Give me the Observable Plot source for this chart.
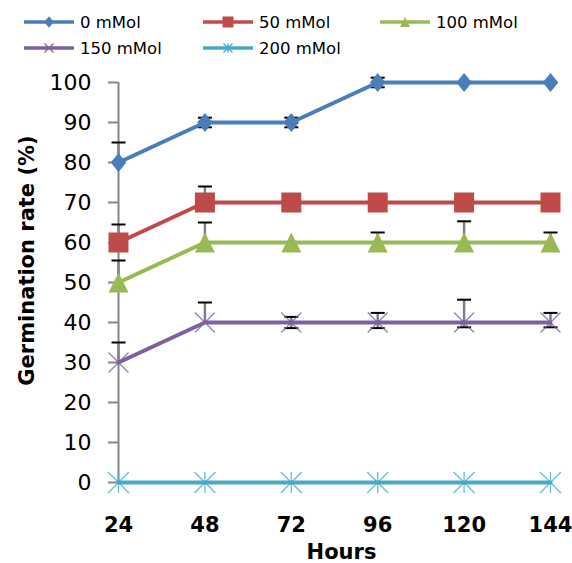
<!DOCTYPE html>
<html><head><meta charset="utf-8">
<script src="https://cdn.jsdelivr.net/npm/d3@7"></script>
<script src="https://cdn.jsdelivr.net/npm/@observablehq/plot@0.6"></script>
<style>
body{margin:0;background:#fff;font-family:"DejaVu Sans",sans-serif}
#legend{width:572px;height:62px}
</style>
</head><body><div id="legend"></div><div id="chart"></div>
<script>
// ---- data ----
const hours = [24, 48, 72, 96, 120, 144];
const yTicks = [0, 10, 20, 30, 40, 50, 60, 70, 80, 90, 100];
const seriesNames = ["0 mMol", "50 mMol", "100 mMol", "150 mMol", "200 mMol"];
const seriesColors = ["#4A7EBB", "#BE4B48", "#98B954", "#7D60A0", "#46AAC5"];
const rate0   = [80, 90, 90, 100, 100, 100];
const rate50  = [60, 70, 70, 70, 70, 70];
const rate100 = [50, 60, 60, 60, 60, 60];
const rate150 = [30, 40, 40, 40, 40, 40];
const rate200 = [0, 0, 0, 0, 0, 0];
const errUp0   = [5, 1.2, 1.2, 1.2, 0, 0];
const errDown0 = [0, 1.2, 1.2, 1.2, 0, 0];
const errUp50   = [4.5, 4, 0, 0, 0, 0];
const errDown50 = [0, 0, 0, 0, 0, 0];
const errUp100   = [5.5, 5, 0, 2.5, 5.3, 2.5];
const errDown100 = [0, 0, 0, 0, 0, 0];
const errUp150   = [5, 5, 1.4, 2.4, 5.7, 2.4];
const errDown150 = [0, 0, 1.4, 1.4, 1.2, 1.2];
const errUp200   = [0, 0, 0, 0, 0, 0];
const errDown200 = [0, 0, 0, 0, 0, 0];

const values = [rate0, rate50, rate100, rate150, rate200];
const ups = [errUp0, errUp50, errUp100, errUp150, errUp200];
const downs = [errDown0, errDown50, errDown100, errDown150, errDown200];

const rows = [];
seriesNames.forEach((s, i) => hours.forEach((h, j) => rows.push({
  series: s, hour: h, value: values[i][j], up: ups[i][j], down: downs[i][j]
})));

// ---- custom symbols (r = sqrt(size/PI)) ----
const R = size => Math.sqrt(size / Math.PI);
const symDiamond = {draw(c, size){const r = R(size); c.moveTo(0,-r*1.15); c.lineTo(r*0.95,0); c.lineTo(0,r*1.15); c.lineTo(-r*0.95,0); c.closePath();}};
const symSquare = {draw(c, size){const r = R(size); c.moveTo(-r,-r); c.lineTo(r,-r); c.lineTo(r,r); c.lineTo(-r,r); c.closePath();}};
const symTriangle = {draw(c, size){const r = R(size); c.moveTo(0,-r); c.lineTo(r,r); c.lineTo(-r,r); c.closePath();}};
const symTimes = {draw(c, size){const r = R(size); c.moveTo(-r,-r); c.lineTo(r,r); c.moveTo(r,-r); c.lineTo(-r,r);}};
const symStar = {draw(c, size){const r = R(size); c.moveTo(-r,-r); c.lineTo(r,r); c.moveTo(r,-r); c.lineTo(-r,r); c.moveTo(0,-r); c.lineTo(0,r);}};
const symCap = {draw(c, size){const r = R(size); c.moveTo(-r,0); c.lineTo(r,0);}};

const markerSpec = [
  {sym: symDiamond, r: 8.2, fill: true, legendR: 5},
  {sym: symSquare, r: 10, fill: true, legendR: 5.5},
  {sym: symTriangle, r: 10, fill: true, legendR: 5},
  {sym: symTimes, r: 10, fill: false, legendR: 4.5},
  {sym: symStar, r: 10.5, fill: false, legendR: 4.5}
];

// ---- legend ----
(function(){
  const svg = d3.select("#legend").append("svg").attr("width", 572).attr("height", 62)
    .style("font-family", "DejaVu Sans");
  const cols = [24, 203, 380];
  seriesNames.forEach((s, i) => {
    const x0 = cols[i % 3], y0 = i < 3 ? 22 : 48;
    const g = svg.append("g").attr("transform", `translate(${x0},${y0})`);
    g.append("line").attr("x1", 0).attr("x2", 50).attr("y1", 0).attr("y2", 0)
      .attr("stroke", seriesColors[i]).attr("stroke-width", 3.5);
    const m = markerSpec[i];
    g.append("path").attr("transform", "translate(25,0)")
      .attr("d", d3.symbol().type(m.sym).size(Math.PI * m.legendR * m.legendR)())
      .attr("fill", m.fill ? seriesColors[i] : "none")
      .attr("stroke", m.fill ? "none" : seriesColors[i]).attr("stroke-width", 1.3);
    g.append("text").attr("x", 56).attr("y", 0).attr("dy", "0.36em")
      .attr("font-size", 16.5).attr("fill", "#000").text(s);
  });
})();

// ---- chart ----
const capsUp = rows.filter(d => d.up > 0);
const capsDown = rows.filter(d => d.down > 0);
const marks = [
  Plot.ruleY([0], {stroke: "#868686", strokeWidth: 2}),
  Plot.ruleX([hours[0]], {stroke: "#868686", strokeWidth: 2}),
  Plot.axisY({ticks: yTicks, tickSize: 10, tickPadding: 17, fontSize: 22, stroke: "#868686", strokeWidth: 2, label: null, tickFormat: d => String(d)}),
  Plot.axisX({ticks: hours, tickSize: 0, tickPadding: 35, fontSize: 21, fontWeight: "bold", label: null, tickFormat: d => String(d)}),
  Plot.ruleX(rows.filter(d => d.up > 0 || d.down > 0), {x: "hour", y1: d => d.value - d.down, y2: d => d.value + d.up, stroke: "#808080", strokeWidth: 2.5}),
  Plot.dot(capsUp, {x: "hour", y: d => d.value + d.up, symbol: symCap, r: 7, stroke: "#000", strokeWidth: 2}),
  Plot.dot(capsDown, {x: "hour", y: d => d.value - d.down, symbol: symCap, r: 7, stroke: "#000", strokeWidth: 2}),
  Plot.line(rows, {x: "hour", y: "value", z: "series", stroke: "series", strokeWidth: 4})
];
seriesNames.forEach((s, i) => {
  const m = markerSpec[i];
  const data = rows.filter(d => d.series === s);
  marks.push(m.fill
    ? Plot.dot(data, {x: "hour", y: "value", symbol: m.sym, r: m.r, fill: seriesColors[i], stroke: "none"})
    : Plot.dot(data, {x: "hour", y: "value", symbol: m.sym, r: m.r, fill: "none", stroke: seriesColors[i], strokeWidth: 1.3, strokeOpacity: 0.8}));
});
marks.push(
  Plot.text(["Hours"], {text: d => d, frameAnchor: "bottom", textAnchor: "middle", dx: 7, dy: 70, lineAnchor: "middle", fontSize: 21, fontWeight: "bold", fill: "#000"}),
  Plot.text(["Germination rate (%)"], {text: d => d, frameAnchor: "left", textAnchor: "middle", dx: -91, dy: -22, rotate: -90, lineAnchor: "middle", fontSize: 21, fontWeight: "bold", fill: "#000"})
);

const chart = Plot.plot({
  width: 572, height: 501,
  marginTop: 20, marginRight: 22, marginBottom: 81, marginLeft: 118,
  x: {domain: [hours[0], hours[hours.length - 1]]},
  y: {domain: [yTicks[0], yTicks[yTicks.length - 1]]},
  color: {domain: seriesNames, range: seriesColors},
  style: {fontFamily: "DejaVu Sans", background: "white", color: "black"},
  marks
});
document.getElementById("chart").appendChild(chart);
</script></body></html>
